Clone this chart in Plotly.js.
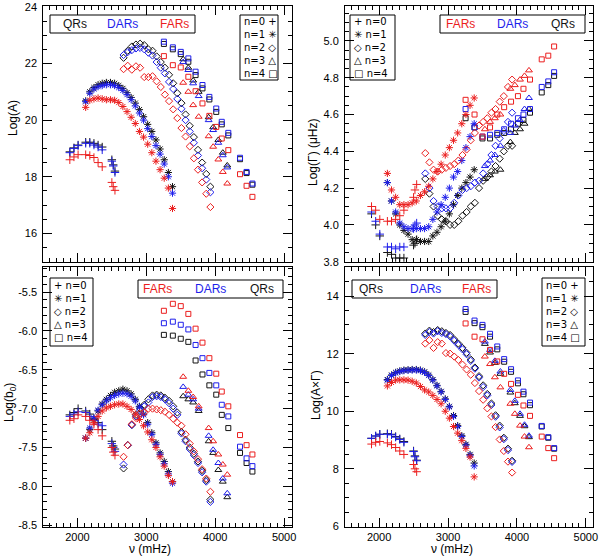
<!DOCTYPE html>
<html>
<head>
<meta charset="utf-8">
<script src="https://cdn.plot.ly/plotly-3.0.1.min.js"></script>
<style>
  body { margin: 0; background: #fff; }
  #graph { width: 600px; height: 558px; }
</style>
</head>
<body>
<div id="graph"></div>
<script>
// mode frequencies per radial order n (muHz, axis says mHz)
var freqN0 = [1890, 1950, 2010, 2120, 2180, 2240, 2300, 2360, 2500, 2520, 2545];
var freqN1 = [2120, 2180, 2240, 2300, 2360, 2420, 2480, 2540, 2600, 2660, 2720, 2780, 2840, 2900, 2960, 3020, 3080, 3140, 3200, 3260, 3320, 3380];
var freqN2 = [2670, 2730, 2790, 2850, 2910, 2970, 3030, 3090, 3150, 3210, 3270, 3330, 3390, 3450, 3510, 3570, 3630, 3690, 3750, 3810, 3870, 3930];
var freqN3 = [3535, 3610, 3680, 3760, 3905, 3970, 4045, 4110, 4175];
var freqN4 = [3255, 3385, 3500, 3610, 3715, 3815, 3915, 4015, 4095, 4190, 4360, 4455, 4540];

// Log(A) -- one list per n (0..4)
var logA_QR = [
  [18.88, 19.02, 19.12, 19.22, 19.22, 19.18, 19.12, 19.05, 18.6, 18.42, 18.2],
  [20.68, 21.0, 21.15, 21.25, 21.3, 21.33, 21.33, 21.3, 21.22, 21.12, 20.97, 20.8, 20.6, 20.37, 20.12, 19.85, 19.6, 19.3, 18.98, 18.6, 18.15, 17.65],
  [22.2, 22.45, 22.6, 22.67, 22.7, 22.65, 22.5, 22.45, 22.25, 22.05, 21.85, 21.6, 21.3, 20.95, 20.6, 20.2, 19.8, 19.4, 18.95, 18.5, 18.1, 17.65],
  [22.15, 21.85, 21.4, 21.0, 20.1, 19.75, 19.3, 18.85, 18.4],
  [22.69, 22.5, 22.33, 22.06, 21.59, 21.12, 20.73, 20.29, 19.85, 19.46, 18.62, 18.13, 17.72]
];
var logA_DAR = [
  [18.85, 19.0, 19.1, 19.18, 19.18, 19.12, 19.05, 18.95, 18.55, 18.38, 18.15],
  [20.65, 20.95, 21.1, 21.18, 21.22, 21.25, 21.25, 21.22, 21.15, 21.05, 20.9, 20.72, 20.5, 20.25, 20.0, 19.7, 19.42, 19.1, 18.8, 18.45, 18.0, 17.42],
  [22.3, 22.4, 22.47, 22.53, 22.55, 22.5, 22.38, 22.28, 22.05, 21.85, 21.65, 21.35, 21.1, 20.75, 20.4, 20.0, 19.6, 19.2, 18.75, 18.3, 17.9, 17.45],
  [22.05, 21.77, 21.3, 20.85, 20.0, 19.65, 19.2, 18.76, 18.33],
  [22.77, 22.57, 22.41, 22.18, 21.71, 21.24, 20.82, 20.41, 19.94, 19.55, 18.67, 18.17, 17.76]
];
var logA_FAR = [
  [18.6, 18.7, 18.78, 18.78, 18.75, 18.68, 18.5, 18.35, 17.8, 17.65, 17.52],
  [20.45, 20.7, 20.75, 20.78, 20.75, 20.72, 20.72, 20.7, 20.62, 20.48, 20.3, 20.1, 19.88, 19.6, 19.4, 19.15, 18.85, 18.55, 18.25, 17.95, 17.6, 16.88],
  [21.8, 21.92, 21.78, 21.9, 21.85, 21.52, 21.52, 21.55, 21.37, 21.17, 20.9, 20.67, 20.38, 20.07, 19.72, 19.42, 19.07, 18.65, 18.25, 17.8, 17.4, 16.93],
  [21.32, 21.0, 20.53, 20.12, 19.43, 19.06, 18.61, 18.17, 17.76],
  [22.26, 21.94, 21.86, 21.53, 21.02, 20.59, 20.15, 19.76, 19.35, 18.94, 18.09, 17.68, 17.29]
];

// Log(Gamma)
var logG_QR = [
  [4.06, 4.0, 3.94, 3.85, 3.84, 3.82, 3.82, 3.82, 3.89, 3.9, 3.92],
  [4.23, 4.13, 4.06, 4.0, 3.97, 3.95, 3.92, 3.92, 3.91, 3.91, 3.91, 3.94, 3.96, 3.99, 4.02, 4.06, 4.11, 4.16, 4.2, 4.23, 4.26, 4.3],
  [4.25, 4.17, 4.1, 4.05, 4.03, 4.02, 4.0, 4.0, 4.02, 4.05, 4.07, 4.1, 4.12, 4.2, 4.24, 4.26, 4.29, 4.32, 4.36, 4.4, 4.43, 4.43],
  [4.25, 4.27, 4.29, 4.3, 4.45, 4.5, 4.52, 4.55, 4.63],
  [4.58, 4.53, 4.47, 4.47, 4.49, 4.5, 4.52, 4.55, 4.57, 4.61, 4.72, 4.76, 4.81]
];
var logG_DAR = [
  [4.07, 4.02, 3.95, 3.88, 3.88, 3.87, 3.88, 3.88, 3.98, 4.0, 4.01],
  [4.23, 4.13, 4.07, 4.01, 3.99, 3.98, 3.98, 3.98, 3.98, 3.98, 3.99, 4.03, 4.07, 4.11, 4.15, 4.2, 4.26, 4.29, 4.35, 4.42, 4.48, 4.55],
  [4.28, 4.2, 4.13, 4.1, 4.09, 4.09, 4.09, 4.12, 4.16, 4.19, 4.2, 4.21, 4.23, 4.24, 4.28, 4.33, 4.38, 4.43, 4.47, 4.51, 4.56, 4.61],
  [4.32, 4.35, 4.38, 4.43, 4.5, 4.54, 4.57, 4.63, 4.69],
  [4.63, 4.53, 4.48, 4.49, 4.5, 4.52, 4.55, 4.58, 4.6, 4.63, 4.75, 4.78, 4.83]
];
var logG_FAR = [
  [4.1, 4.08, 4.03, 4.02, 4.02, 4.03, 4.05, 4.08, 4.15, 4.19, 4.22],
  [4.28, 4.19, 4.15, 4.11, 4.11, 4.11, 4.12, 4.13, 4.16, 4.18, 4.21, 4.25, 4.29, 4.33, 4.38, 4.42, 4.46, 4.5, 4.55, 4.6, 4.65, 4.69],
  [4.39, 4.34, 4.3, 4.29, 4.3, 4.31, 4.32, 4.33, 4.35, 4.38, 4.41, 4.46, 4.5, 4.54, 4.56, 4.58, 4.61, 4.63, 4.67, 4.7, 4.75, 4.79],
  [4.52, 4.56, 4.58, 4.6, 4.74, 4.76, 4.79, 4.81, 4.84],
  [4.68, 4.6, 4.48, 4.53, 4.6, 4.64, 4.67, 4.7, 4.74, 4.79, 4.9, 4.92, 4.97]
];

// Log(b0)
var logB_QR = [
  [-7.08, -7.05, -7.0, -7.03, -7.07, -7.13, -7.18, -7.27, -7.42, -7.48, -7.52],
  [-7.38, -7.27, -7.14, -7.03, -6.94, -6.88, -6.83, -6.79, -6.77, -6.75, -6.77, -6.81, -6.88, -6.97, -7.07, -7.18, -7.31, -7.44, -7.57, -7.68, -7.81, -7.94],
  [-7.77, -7.47, -7.21, -7.08, -7.0, -6.95, -6.88, -6.83, -6.82, -6.83, -6.86, -6.9, -6.97, -7.05, -7.3, -7.4, -7.5, -7.58, -7.68, -7.8, -7.92, -8.17],
  [-6.84, -6.88, -6.92, -7.03, -7.42, -7.57, -7.79, -7.94, -8.14],
  [-6.05, -6.06, -6.1, -6.14, -6.38, -6.56, -6.7, -6.82, -7.08, -7.25, -7.57, -7.7, -7.81]
];
var logB_DAR = [
  [-7.1, -7.07, -7.04, -7.05, -7.1, -7.15, -7.2, -7.22, -7.45, -7.5, -7.55],
  [-7.38, -7.25, -7.12, -7.02, -6.95, -6.9, -6.86, -6.83, -6.81, -6.8, -6.81, -6.84, -6.9, -6.98, -7.08, -7.2, -7.33, -7.46, -7.59, -7.71, -7.84, -7.96],
  [-7.72, -7.47, -7.21, -7.1, -7.02, -6.97, -6.92, -6.85, -6.84, -6.85, -6.88, -6.93, -7.0, -7.08, -7.32, -7.42, -7.52, -7.6, -7.7, -7.82, -7.94, -8.2],
  [-6.72, -6.82, -6.88, -7.0, -7.35, -7.53, -7.7, -7.9, -8.09],
  [-5.9, -5.88, -5.92, -5.98, -6.18, -6.35, -6.54, -6.7, -6.95, -7.1, -7.49, -7.64, -7.74]
];
var logB_FAR = [
  [-7.15, -7.13, -7.08, -7.1, -7.15, -7.2, -7.27, -7.35, -7.5, -7.56, -7.6],
  [-7.38, -7.31, -7.18, -7.1, -7.03, -6.99, -6.97, -6.95, -6.94, -6.94, -6.97, -7.01, -7.07, -7.14, -7.22, -7.3, -7.4, -7.5, -7.62, -7.74, -7.86, -7.94],
  [-7.62, -7.47, -7.2, -7.12, -7.06, -7.05, -7.0, -7.0, -7.01, -7.02, -7.04, -7.08, -7.13, -7.18, -7.22, -7.33, -7.45, -7.55, -7.65, -7.78, -7.9, -8.07],
  [-6.59, -6.77, -6.85, -6.97, -7.25, -7.42, -7.59, -7.72, -7.85],
  [-5.74, -5.65, -5.68, -5.78, -5.97, -6.15, -6.35, -6.55, -6.78, -6.97, -7.34, -7.47, -7.59]
];

// Log(A x Gamma)
var logAG_QR = [
  [9.06, 9.14, 9.2, 9.22, 9.2, 9.12, 9.04, 8.95, 8.62, 8.45, 8.3],
  [11.1, 11.26, 11.35, 11.4, 11.43, 11.44, 11.45, 11.45, 11.43, 11.37, 11.26, 11.1, 10.9, 10.69, 10.43, 10.17, 9.85, 9.5, 9.15, 8.85, 8.5, 8.2],
  [12.7, 12.8, 12.75, 12.82, 12.78, 12.72, 12.65, 12.5, 12.35, 12.2, 12.03, 11.8, 11.52, 11.22, 10.9, 10.6, 10.27, 9.86, 9.5, 9.08, 8.7, 8.28],
  [12.34, 12.04, 11.68, 11.3, 10.65, 10.28, 9.84, 9.48, 9.1],
  [13.45, 13.06, 12.92, 12.59, 12.15, 11.72, 11.37, 10.97, 10.59, 10.21, 9.47, 9.08, 8.7]
];
var logAG_DAR = [
  [9.06, 9.14, 9.2, 9.2, 9.18, 9.1, 9.02, 8.92, 8.6, 8.42, 8.28],
  [11.08, 11.24, 11.33, 11.38, 11.41, 11.42, 11.43, 11.43, 11.41, 11.35, 11.24, 11.08, 10.88, 10.67, 10.41, 10.15, 9.82, 9.47, 9.12, 8.82, 8.47, 8.1],
  [12.65, 12.75, 12.7, 12.78, 12.72, 12.68, 12.6, 12.45, 12.3, 12.15, 11.98, 11.75, 11.48, 11.17, 10.84, 10.55, 10.22, 9.81, 9.44, 9.03, 8.65, 8.24],
  [12.42, 12.13, 11.75, 11.38, 10.74, 10.36, 9.91, 9.53, 9.15],
  [13.55, 13.15, 13.0, 12.69, 12.25, 11.81, 11.46, 11.07, 10.68, 10.3, 9.49, 9.1, 8.72]
];
var logAG_FAR = [
  [8.86, 8.92, 8.95, 8.9, 8.84, 8.74, 8.62, 8.5, 8.15, 8.0, 7.9],
  [10.88, 11.0, 11.08, 11.09, 11.09, 11.08, 11.04, 10.98, 10.86, 10.74, 10.67, 10.55, 10.41, 10.26, 10.0, 9.76, 9.47, 9.24, 8.98, 8.71, 8.41, 7.72],
  [12.35, 12.47, 12.2, 12.4, 12.35, 12.02, 12.0, 11.9, 11.78, 11.62, 11.45, 11.27, 10.98, 10.7, 10.4, 10.1, 9.82, 9.45, 9.02, 8.62, 8.25, 7.87],
  [11.9, 11.64, 11.18, 10.83, 10.26, 9.91, 9.5, 9.12, 8.75],
  [13.05, 12.59, 12.5, 12.13, 11.73, 11.3, 10.95, 10.57, 10.2, 9.84, 9.12, 8.72, 8.37]
];

var bTickVals = [-8.5, -8.0, -7.5, -7.0, -6.5, -6.0, -5.5];
var bTickText = ['-8.5', '-8.0', '-7.5', '-7.0', '-6.5', '-6.0', '-5.5'];

var freqs = [freqN0, freqN1, freqN2, freqN3, freqN4];
var symbols = ['cross-thin-open', 'asterisk-open', 'diamond-open', 'triangle-up-open', 'square-open'];
var sizes = [6, 6, 5.5, 6, 5];
var QR = 'rgb(20,20,20)', DAR = 'rgb(30,30,235)', FAR = 'rgb(235,30,30)';
var FONT = 'Liberation Sans, Arial, Helvetica, sans-serif';

var traces = [];
function addSeries(ax, series, color) {
    for (let n = 0; n < 5; n++) {
        traces.push({
            x: freqs[n], y: series[n], xaxis: 'x' + ax, yaxis: 'y' + ax,
            type: 'scatter', mode: 'markers', showlegend: false, hoverinfo: 'skip',
            marker: {symbol: symbols[n], size: sizes[n], color: color, line: {color: color, width: 1}}
        });
    }
}
addSeries('', logA_QR, QR); addSeries('', logA_DAR, DAR); addSeries('', logA_FAR, FAR);
addSeries('2', logG_QR, QR); addSeries('2', logG_DAR, DAR); addSeries('2', logG_FAR, FAR);
addSeries('3', logB_QR, QR); addSeries('3', logB_DAR, DAR); addSeries('3', logB_FAR, FAR);
addSeries('4', logAG_QR, QR); addSeries('4', logAG_DAR, DAR); addSeries('4', logAG_FAR, FAR);

// pixel -> paper
function px(x) { return x / 600; }
function py(y) { return 1 - y / 558; }

var colL = [px(43.3), px(291.7)], colR = [px(345), px(593.4)];
var rowT = [py(261.7), py(6)], rowB = [py(526.7), py(267.3)];

function xAxis(domain, anchor, labels) {
    return {
        domain: domain, anchor: anchor, range: [1505, 5110],
        tick0: 0, dtick: 1000, ticks: 'inside', ticklen: 9, tickwidth: 1, tickcolor: '#000',
        minor: {ticks: 'inside', ticklen: 4, dtick: 100, tickcolor: '#000', showgrid: false},
        showline: true, linecolor: '#000', linewidth: 1, mirror: 'allticks',
        showgrid: false, zeroline: false, showticklabels: labels,
        tickfont: {family: FONT, size: 11, color: '#000'}
    };
}
function yAxis(domain, anchor, range, dtick, minor, extra) {
    var a = {
        domain: domain, anchor: anchor, range: range,
        tick0: 0, dtick: dtick, ticks: 'inside', ticklen: 9, tickwidth: 1, tickcolor: '#000',
        minor: {ticks: 'inside', ticklen: 4, dtick: minor, tickcolor: '#000', showgrid: false},
        showline: true, linecolor: '#000', linewidth: 1, mirror: 'allticks',
        showgrid: false, zeroline: false, ticklabelstandoff: 3,
        tickfont: {family: FONT, size: 11, color: '#000'}
    };
    return Object.assign(a, extra || {});
}

var shapes = [];
var annotations = [];
function box(x0, y0, x1, y1) {
    shapes.push({type: 'rect', xref: 'paper', yref: 'paper', x0: px(x0), x1: px(x1), y0: py(y1), y1: py(y0),
        line: {color: '#000', width: 1}, fillcolor: 'rgba(0,0,0,0)'});
}
function text(x, y, s, opts) {
    annotations.push(Object.assign({xref: 'paper', yref: 'paper', x: px(x), y: py(y), text: s, showarrow: false,
        xanchor: 'center', yanchor: 'middle', font: {family: FONT, size: 12, color: '#000'}}, opts || {}));
}

// region boxes
var regNames = ['QRs', 'DARs', 'FARs'], regColors = [QR, DAR, FAR];
function regionBox(x0, y0, x1, y1, order, centers) {
    box(x0, y0, x1, y1);
    for (let i = 0; i < 3; i++) {
        text(centers[i], (y0 + y1) / 2, regNames[order[i]], {font: {family: FONT, size: 12, color: regColors[order[i]]}});
    }
}
regionBox(50, 15, 195, 33, [0, 1, 2], [75, 123, 174]);
regionBox(440, 15, 585, 33, [2, 1, 0], [460, 512, 563]);
regionBox(138, 280, 283, 298, [2, 1, 0], [157, 210, 262]);
regionBox(352, 280, 497, 298, [0, 1, 2], [371, 425, 476]);

// order legends: one block of five lines per panel
var nLabels = ['n=0', 'n=1', 'n=2', 'n=3', 'n=4'];
var nGlyphs = ['+', '\u2733\uFE0E', '\u25C7', '\u25B3', '\u25A1'];
function orderBox(x0, y0, x1, y1, symFirst) {
    box(x0, y0, x1, y1);
    var lines = [];
    for (let i = 0; i < 5; i++) {
        lines.push(symFirst ? nGlyphs[i] + ' ' + nLabels[i] : nLabels[i] + ' ' + nGlyphs[i]);
    }
    text(x0 + 2, (y0 + y1) / 2, lines.join('<br>'),
        {xanchor: 'left', align: 'left', font: {family: 'DejaVu Sans, sans-serif', size: 10, color: '#000'}});
}
orderBox(240, 15, 278, 80, false);
orderBox(350, 15, 395, 80, true);
orderBox(50, 278, 93, 346, true);
orderBox(542, 278, 585, 346, false);

// axis titles
text(13, 118, 'Log(A)', {textangle: -90});
text(313, 152, 'Log(\u0393) (\u03BCHz)', {textangle: -90});
text(10, 403, 'Log(b<sub>0</sub>)', {textangle: -90});
text(316, 395, 'Log(A\u00D7\u0393)', {textangle: -90});
text(150, 549, '\u03BD (mHz)');
text(452, 549, '\u03BD (mHz)');

var layout = {
    width: 600, height: 558,
    margin: {t: 0, b: 0, l: 0, r: 0},
    paper_bgcolor: '#fff', plot_bgcolor: '#fff',
    showlegend: false,
    xaxis: xAxis(colL, 'y', false),
    yaxis: yAxis(rowT, 'x', [15, 24.03], 2, 0.5),
    xaxis2: xAxis(colR, 'y2', false),
    yaxis2: yAxis(rowT, 'x2', [3.8, 5.19], 0.2, 0.05, {tickformat: '.1f'}),
    xaxis3: xAxis(colL, 'y3', true),
    yaxis3: yAxis(rowB, 'x3', [-8.52, -5.18], 0.5, 0.1, {tickmode: 'array', tickvals: bTickVals, ticktext: bTickText}),
    xaxis4: xAxis(colR, 'y4', true),
    yaxis4: yAxis(rowB, 'x4', [5.99, 15], 2, 0.5),
    shapes: shapes,
    annotations: annotations
};

Plotly.newPlot('graph', traces, layout, {staticPlot: true, displayModeBar: false});
</script>
</body>
</html>
